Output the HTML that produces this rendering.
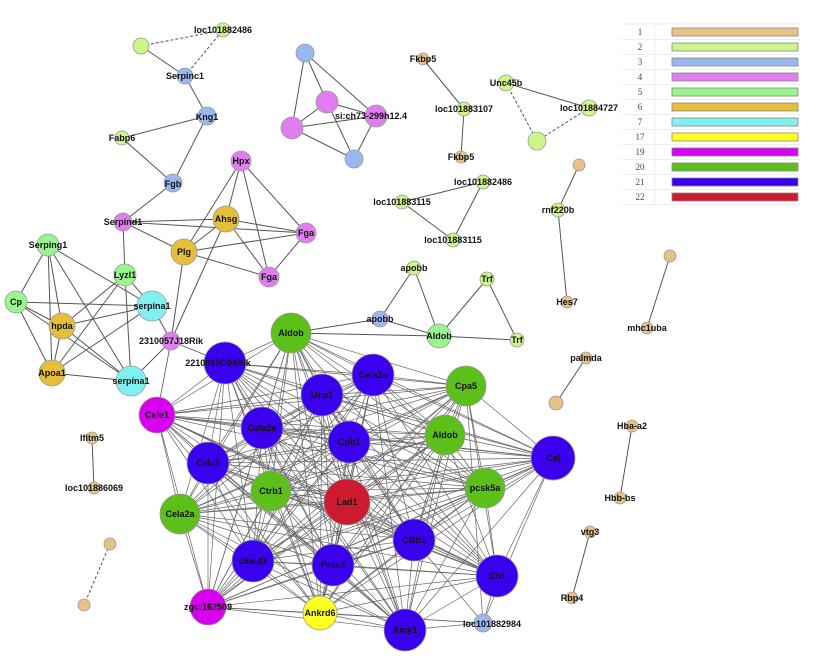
<!DOCTYPE html>
<html><head><meta charset="utf-8"><style>
body{margin:0;background:#fff;width:825px;height:671px;overflow:hidden}
svg{display:block}
text{font-family:"Liberation Sans",sans-serif;font-weight:bold;font-size:9px;fill:#111;text-anchor:middle;dominant-baseline:central}
.n{stroke:#999;stroke-width:0.8}
.e line{stroke:#555;stroke-width:1}
.lg text{font-family:"Liberation Serif",serif;font-weight:normal;font-size:9px;fill:#444}
</style></head><body>
<svg id="s" width="825" height="671" viewBox="0 0 825 671">
<g class="lg">
<line x1="622" y1="24" x2="800" y2="24" stroke="#eee"/>
<line x1="655" y1="24" x2="655" y2="203" stroke="#eee"/>
<g id="leg"></g>
</g>
<g class="e" id="edges">
<line x1="141" y1="46" x2="223" y2="30" stroke-dasharray="3,2"/>
<line x1="185" y1="76" x2="223" y2="30" stroke-dasharray="3,2"/>
<line x1="141" y1="46" x2="185" y2="76"/>
<line x1="185" y1="76" x2="207" y2="116"/>
<line x1="207" y1="116" x2="122" y2="138"/>
<line x1="207" y1="116" x2="173" y2="183"/>
<line x1="122" y1="138" x2="173" y2="183"/>
<line x1="305" y1="53" x2="327" y2="102"/><line x1="305" y1="53" x2="292" y2="128"/><line x1="305" y1="53" x2="376" y2="116"/>
<line x1="327" y1="102" x2="292" y2="128"/><line x1="327" y1="102" x2="376" y2="116"/><line x1="327" y1="102" x2="354" y2="159"/>
<line x1="292" y1="128" x2="376" y2="116"/><line x1="292" y1="128" x2="354" y2="159"/><line x1="376" y1="116" x2="354" y2="159"/>
<line x1="423" y1="59" x2="464" y2="109"/><line x1="464" y1="109" x2="461" y2="157"/>
<line x1="506" y1="83" x2="589" y2="108"/>
<line x1="506" y1="83" x2="537" y2="141" stroke-dasharray="3,2"/><line x1="589" y1="108" x2="537" y2="141" stroke-dasharray="3,2"/>
<line x1="483" y1="182" x2="402" y2="202"/><line x1="483" y1="182" x2="453" y2="240"/><line x1="402" y1="202" x2="453" y2="240"/>
<line x1="579" y1="165" x2="558" y2="210"/><line x1="558" y1="210" x2="567" y2="302"/>
<line x1="670" y1="256" x2="647" y2="328"/>
<line x1="586" y1="358" x2="556" y2="403"/>
<line x1="632" y1="426" x2="620" y2="498"/>
<line x1="590" y1="532" x2="572" y2="598"/>
<line x1="92" y1="438" x2="94" y2="488"/>
<line x1="110" y1="544" x2="84" y2="605" stroke-dasharray="3,2"/>
<line x1="414" y1="268" x2="380" y2="319"/><line x1="414" y1="268" x2="439" y2="336"/>
<line x1="487" y1="279" x2="439" y2="336"/><line x1="487" y1="279" x2="517" y2="340"/>
<line x1="439" y1="336" x2="517" y2="340"/><line x1="380" y1="319" x2="439" y2="336"/>
<line x1="380" y1="319" x2="291" y2="333"/><line x1="291" y1="333" x2="439" y2="336"/>
<line x1="173" y1="183" x2="123" y2="222"/>
</g>
<g id="nodes"></g>
<g id="labels">
<text x="223" y="30">loc101882486</text>
<text x="185" y="76">Serpinc1</text>
<text x="207" y="117">Kng1</text>
<text x="122" y="138">Fabp6</text>
<text x="173" y="184">Fgb</text>
<text x="371" y="116">si:ch73-299h12.4</text>
<text x="423" y="59">Fkbp5</text>
<text x="464" y="109">loc101883107</text>
<text x="461" y="157">Fkbp5</text>
<text x="506" y="83">Unc45b</text>
<text x="589" y="108">loc101884727</text>
<text x="483" y="182">loc101882486</text>
<text x="402" y="202">loc101883115</text>
<text x="453" y="240">loc101883115</text>
<text x="558" y="210">rnf220b</text>
<text x="567" y="302">Hes7</text>
<text x="647" y="328">mhc1uba</text>
<text x="586" y="358">palmda</text>
<text x="632" y="426">Hba-a2</text>
<text x="620" y="498">Hbb-bs</text>
<text x="590" y="532">vtg3</text>
<text x="572" y="598">Rbp4</text>
<text x="92" y="438">Ifitm5</text>
<text x="94" y="488">loc101886069</text>
<text x="414" y="268">apobb</text>
<text x="487" y="279">Trf</text>
<text x="380" y="319">apobb</text>
<text x="439" y="336">Aldob</text>
<text x="517" y="340">Trf</text>
<text x="241" y="161">Hpx</text>
<text x="123" y="222">Serpind1</text>
<text x="226" y="219">Ahsg</text>
<text x="184" y="252">Plg</text>
<text x="306" y="233">Fga</text>
<text x="269" y="277">Fga</text>
<text x="48" y="245">Serping1</text>
<text x="125" y="275">Lyzl1</text>
<text x="16" y="302">Cp</text>
<text x="62" y="326">hpda</text>
<text x="152" y="306">serpina1</text>
<text x="171" y="341">2310057J18Rik</text>
<text x="52" y="373">Apoa1</text>
<text x="131" y="381">serpina1</text>
<text x="291" y="333">Aldob</text>
<text x="218" y="363">2210010C04Rik</text>
<text x="373" y="375">Cela2a</text>
<text x="322" y="395">Ucp1</text>
<text x="466" y="386">Cpa5</text>
<text x="157" y="415">Cele1</text>
<text x="262" y="428">Cela2a</text>
<text x="445" y="435">Aldob</text>
<text x="349" y="442">Cpb1</text>
<text x="553" y="458">Cel</text>
<text x="208" y="463">Cela1</text>
<text x="271" y="491">Ctrb1</text>
<text x="347" y="502">Lad1</text>
<text x="485" y="488">pcsk5a</text>
<text x="180" y="514">Cela2a</text>
<text x="414" y="540">Ctrb1</text>
<text x="253" y="561">c6ast3</text>
<text x="333" y="565">Prss2</text>
<text x="497" y="576">Ctrl</text>
<text x="208" y="607">zgc:162509</text>
<text x="320" y="613">Ankrd6</text>
<text x="405" y="630">Amy1</text>
<text x="492" y="624">loc101882984</text>
</g>
</svg>
<script>
var NS="http://www.w3.org/2000/svg";
var C={t:"#e8c088",lg:"#ccf58a",lb:"#99b8f0",p:"#e07ef0",g5:"#99f58e",au:"#e6bf3a",cy:"#80f0f0",y:"#ffff22",m:"#d600ee",g:"#5cbf1a",b:"#3a00ee",r:"#cc1a30"};
var N=[[141,46,8,"lg"],[223,30,7,"lg"],[185,76,8,"lb"],[207,116,9,"lb"],[122,138,7,"lg"],[173,183,9,"lb"],
[305,53,9,"lb"],[327,102,11,"p"],[292,128,11,"p"],[376,116,11,"p"],[354,159,9,"lb"],
[423,59,6,"t"],[464,109,7,"lg"],[461,157,6,"t"],[506,83,8,"lg"],[589,108,8,"lg"],[537,141,9,"lg"],
[483,182,7,"lg"],[402,202,7,"lg"],[453,240,7,"lg"],[579,165,6,"t"],[558,210,7,"lg"],[567,302,6,"t"],
[670,256,6,"t"],[647,328,6,"t"],[586,358,6,"t"],[556,403,7,"t"],[632,426,6,"t"],[620,498,6,"t"],[590,532,6,"t"],[572,598,6,"t"],
[92,438,6,"t"],[94,488,6,"t"],[110,544,6,"t"],[84,605,6,"t"],
[414,268,7,"lg"],[487,279,7,"lg"],[380,319,8,"lb"],[439,336,12,"g5"],[517,340,7,"lg"],
[241,161,10,"p"],[123,222,9,"p"],[226,219,13,"au"],[184,252,13,"au"],[306,233,10,"p"],[269,277,10,"p"],
[48,245,11,"g5"],[125,275,11,"g5"],[16,302,11,"g5"],[62,326,13,"au"],[152,306,15,"cy"],[171,341,9,"p"],[52,373,13,"au"],[131,381,15,"cy"]];
var B=[[291,333,20,"g"],[225,363,21,"b"],[373,375,21,"b"],[322,395,21,"b"],[466,386,20,"g"],[157,415,18,"m"],[262,428,21,"b"],[445,435,20,"g"],[349,442,21,"b"],[553,458,22,"b"],[208,463,21,"b"],[271,491,20,"g"],[347,502,23,"r"],[485,488,20,"g"],[180,514,20,"g"],[414,540,21,"b"],[253,561,21,"b"],[333,565,21,"b"],[497,576,21,"b"],[208,607,18,"m"],[320,613,17,"y"],[405,630,21,"b"],[483,623,9,"lb"]];
var E=document.getElementById("edges");
function L(a,b,w,c){var l=document.createElementNS(NS,"line");l.setAttribute("x1",a[0]);l.setAttribute("y1",a[1]);l.setAttribute("x2",b[0]);l.setAttribute("y2",b[1]);if(w)l.setAttribute("style","stroke-width:"+w+";stroke:"+(c||"#555"));E.appendChild(l);}
var P=function(i){return N[i];};
[[40,42],[40,43],[40,44],[40,45],[41,42],[41,43],[41,47],[42,44],[42,45],[42,43],[42,51],[43,44],[43,45],[43,51],[44,45],[41,44],
[46,48],[46,49],[46,52],[46,50],[46,53],[48,50],[48,49],[48,52],[48,53],[47,49],[47,52],[47,53],[47,50],[49,50],[49,52],[49,53],[52,50],[52,53],[50,51],[53,51]].forEach(function(p){L(N[p[0]],N[p[1]]);});
var skip={"22":1};
for(var i=0;i<22;i++)for(var j=i+1;j<22;j++){L(B[i],B[j],0.7,"#666");}
[4,9,15,18,21,20,19].forEach(function(k){L(B[22],B[k],0.7,"#666");});
L(B[1],[171,341],0.8);L(B[5],[171,341],0.8);
var G=document.getElementById("nodes");
N.concat(B).forEach(function(n){var c=document.createElementNS(NS,"circle");c.setAttribute("cx",n[0]);c.setAttribute("cy",n[1]);c.setAttribute("r",n[2]);c.setAttribute("fill",C[n[3]]);c.setAttribute("class","n");G.appendChild(c);});
var lg=document.getElementById("leg");
var names=["1","2","3","4","5","6","7","17","19","20","21","22"],cols=["#e8c088","#ccf58a","#99b8f0","#e07ef0","#99f58e","#e6bf3a","#80f0f0","#ffff22","#d600ee","#5cbf1a","#3a00ee","#cc1a30"];
names.forEach(function(n,i){var y=32+i*15;
var t=document.createElementNS(NS,"text");t.setAttribute("x",640);t.setAttribute("y",y);t.textContent=n;lg.appendChild(t);
var r=document.createElementNS(NS,"rect");r.setAttribute("x",672);r.setAttribute("y",y-4);r.setAttribute("width",126);r.setAttribute("height",8);r.setAttribute("fill",cols[i]);r.setAttribute("stroke","#888");r.setAttribute("stroke-width","0.8");lg.appendChild(r);
var l=document.createElementNS(NS,"line");l.setAttribute("x1",622);l.setAttribute("x2",800);l.setAttribute("y1",y+7.5);l.setAttribute("y2",y+7.5);l.setAttribute("stroke","#eee");lg.appendChild(l);});
</script>
</body></html>
